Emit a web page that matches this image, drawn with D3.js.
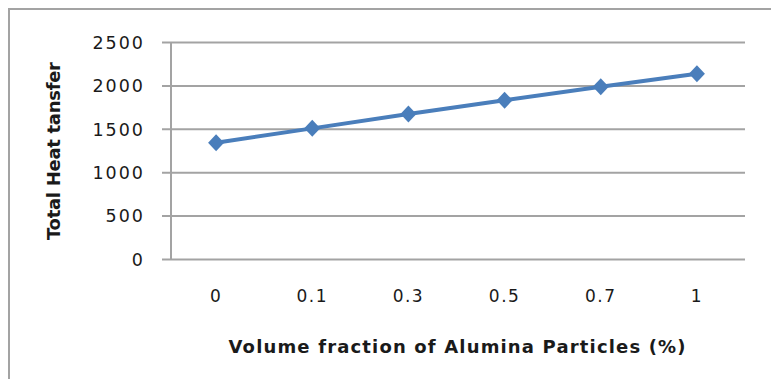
<!DOCTYPE html>
<html>
<head>
<meta charset="utf-8">
<script src="https://cdn.jsdelivr.net/npm/d3@7"></script>
<style>
  html, body { margin: 0; padding: 0; background: #fff; }
  svg { display: block; }
  text { font-family: "DejaVu Sans", sans-serif; fill: #1a1a1a; }
</style>
</head>
<body>
<svg id="chart" width="771" height="379"></svg>
<script>
// Volume fraction categories (%) and total heat transfer values
const categories = ["0", "0.1", "0.3", "0.5", "0.7", "1"];
const heatTransfer = [1340, 1505, 1670, 1830, 1985, 2135];
const yTicks = [0, 500, 1000, 1500, 2000, 2500];
const xTitle = "Volume fraction of Alumina Particles (%)";
const yTitle = "Total Heat tansfer";

const svg = d3.select("#chart");
const W = 771, H = 379;
const plot = { left: 171, right: 745, top: 42, bottom: 259 };
const gray = "#a3a3a3";
const blue = "#4a7ebb";

// Outer chart frame
svg.append("rect")
  .attr("x", 9).attr("y", 9)
  .attr("width", W + 20).attr("height", H + 20)
  .attr("fill", "none").attr("stroke", gray).attr("stroke-width", 2);

const x = d3.scaleBand().domain(categories).range([168, plot.right]);
const y = d3.scaleLinear().domain([0, 2500]).range([plot.bottom, plot.top]);

// Horizontal gridlines with short outside ticks, drawn by the y axis
const yAxis = svg.append("g")
  .attr("transform", `translate(${plot.left},0)`)
  .call(d3.axisLeft(y).tickValues(yTicks).tickFormat(d3.format("d"))
    .tickSize(-(plot.right - plot.left)).tickSizeOuter(0).tickPadding(26));
yAxis.select(".domain").remove();
yAxis.selectAll(".tick line")
  .attr("x1", -9)
  .attr("stroke", gray).attr("stroke-width", 2);
yAxis.selectAll(".tick text")
  .attr("font-size", 17.5).attr("letter-spacing", 2)
  .attr("fill", "#1a1a1a").attr("dy", "0.36em");

// Vertical value axis line
svg.append("line")
  .attr("x1", plot.left).attr("x2", plot.left)
  .attr("y1", plot.top).attr("y2", plot.bottom)
  .attr("stroke", gray).attr("stroke-width", 2);

// Category labels
const xAxis = svg.append("g")
  .attr("transform", `translate(0,${plot.bottom})`)
  .call(d3.axisBottom(x).tickSize(0).tickPadding(31));
xAxis.select(".domain").remove();
xAxis.selectAll(".tick text")
  .attr("font-size", 17).attr("letter-spacing", 1.5)
  .attr("fill", "#1a1a1a");

// Series line
const pts = categories.map((c, i) => [x(c) + x.bandwidth() / 2, y(heatTransfer[i])]);
svg.append("path")
  .attr("d", d3.line()(pts))
  .attr("fill", "none").attr("stroke", blue)
  .attr("stroke-width", 4).attr("stroke-linejoin", "round");

// Diamond markers
svg.selectAll(".marker")
  .data(pts)
  .join("path")
  .attr("class", "marker")
  .attr("d", d => `M${d[0]},${d[1] - 8.5}L${d[0] + 8},${d[1]}L${d[0]},${d[1] + 8.5}L${d[0] - 8},${d[1]}Z`)
  .attr("fill", blue);

// Axis titles
svg.append("text")
  .attr("x", 457).attr("y", 353)
  .attr("text-anchor", "middle")
  .attr("font-family", "'Open Sans', sans-serif")
  .attr("font-size", 18).attr("font-weight", "bold")
  .attr("textLength", 457).attr("lengthAdjust", "spacing")
  .text(xTitle);

svg.append("text")
  .attr("transform", "translate(60,151) rotate(-90)")
  .attr("text-anchor", "middle")
  .attr("font-family", "'Open Sans', sans-serif")
  .attr("font-size", 18).attr("font-weight", "bold")
  .attr("textLength", 178).attr("lengthAdjust", "spacing")
  .text(yTitle);
</script>
</body>
</html>
